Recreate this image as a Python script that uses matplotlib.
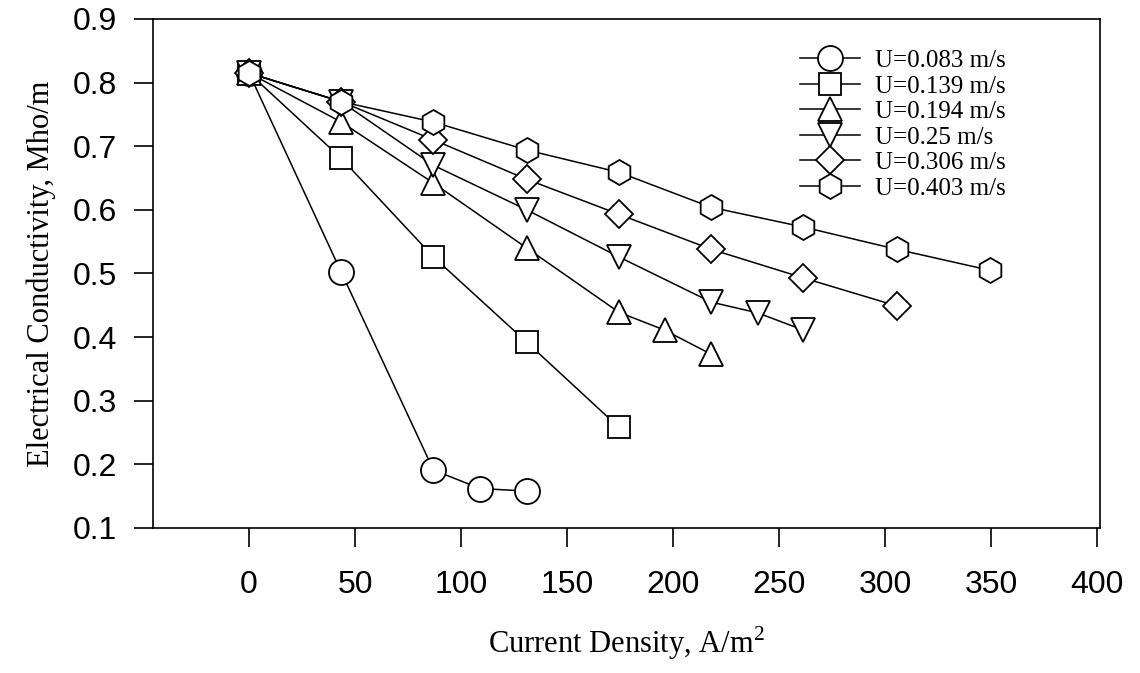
import matplotlib
matplotlib.use("Agg")
from matplotlib import pyplot as plt
from matplotlib import font_manager
from matplotlib.lines import Line2D

# current density, A/m^2
x_083 = [0, 43.5, 87, 109, 131]
x_139 = [0, 43.5, 87, 131, 174.5]
x_194 = [0, 43.5, 87, 131, 174.5, 196, 218]
x_250 = [0, 43.5, 87, 131, 174.5, 218, 240, 261.5]
x_306 = [0, 43.5, 87, 131, 174.5, 218, 261.5, 305.5]
x_403 = [0, 43.5, 87, 131, 174.5, 218, 261.5, 305.5, 349.5]

# electrical conductivity, Mho/m
y_083 = [0.815, 0.502, 0.191, 0.162, 0.158]
y_139 = [0.815, 0.681, 0.526, 0.392, 0.258]
y_194 = [0.815, 0.738, 0.642, 0.540, 0.439, 0.411, 0.373]
y_250 = [0.815, 0.770, 0.670, 0.600, 0.526, 0.455, 0.438, 0.411]
y_306 = [0.815, 0.770, 0.710, 0.648, 0.593, 0.538, 0.493, 0.449]
y_403 = [0.815, 0.770, 0.738, 0.694, 0.659, 0.604, 0.573, 0.538, 0.505]

labels = ["U=0.083 m/s", "U=0.139 m/s", "U=0.194 m/s",
          "U=0.25 m/s", "U=0.306 m/s", "U=0.403 m/s"]
xticks = [0, 50, 100, 150, 200, 250, 300, 350, 400]
yticks = [0.1, 0.2, 0.3, 0.4, 0.5, 0.6, 0.7, 0.8, 0.9]

series = [
    (x_083, y_083, "o", 18),
    (x_139, y_139, "s", 16),
    (x_194, y_194, "^", 17),
    (x_250, y_250, "v", 17),
    (x_306, y_306, "D", 14),
    (x_403, y_403, "h", 18),
]

# narrow sans for the tick numbers if it is there
names = {f.name for f in font_manager.fontManager.ttflist}
if "Liberation Sans Narrow" in names:
    tick_font, tick_size = "Liberation Sans Narrow", 25
else:
    tick_font, tick_size = "Liberation Sans", 23
serif = "Liberation Serif"

fig = plt.figure(figsize=(11.4, 6.73), dpi=100)
ax = fig.add_axes([0.1342, 0.2155, 0.8307, 0.7563])

handles = []
for (x, y, m, ms), lab in zip(series, labels):
    ax.plot(x, y, color="black", lw=1.1, zorder=2)
for (x, y, m, ms), lab in zip(series, labels):
    ax.plot(x, y, ls="none", marker=m, markersize=ms, mfc="white",
            mec="black", mew=1.3, zorder=3)
    handles.append(Line2D([], [], color="black", lw=1.1, marker=m,
                          markersize=ms, mfc="white", mec="black", mew=1.3))

ax.set_xlim(-45.3, 401.4)
ax.set_ylim(0.1, 0.9)
ax.set_xticks(xticks)
ax.set_yticks(yticks)
ax.set_xticklabels([str(t) for t in xticks], fontfamily=tick_font,
                   fontsize=tick_size)
ax.set_yticklabels(["%.1f" % t for t in yticks], fontfamily=tick_font,
                   fontsize=tick_size)
ax.tick_params(axis="x", direction="out", length=14, width=1.2, pad=16)
ax.tick_params(axis="y", direction="out", length=14, width=1.2, pad=12)
for sp in ax.spines.values():
    sp.set_linewidth(1.2)

ax.set_xlabel(r"Current Density, A/m$^\mathregular{2}$", fontfamily=serif,
              fontsize=22, labelpad=18)
ax.set_ylabel("Electrical Conductivity, Mho/m", fontfamily=serif,
              fontsize=22, labelpad=12)

ax.legend(handles, labels, loc="upper left", bbox_to_anchor=(0.683, 0.94),
          frameon=False, prop={"family": serif, "size": 18},
          labelspacing=0.12, handlelength=2.4, handletextpad=0.6,
          borderpad=0, borderaxespad=0)

fig.savefig("out.png", dpi=100)
